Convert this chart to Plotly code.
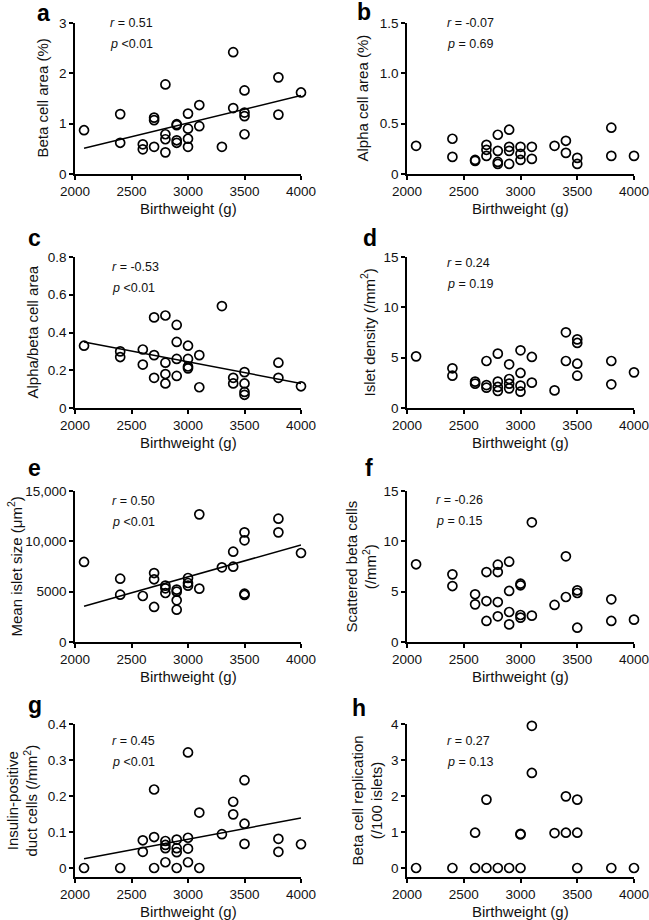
import plotly.graph_objects as go

W, H = 649, 920

# ---------------- data ----------------
bw_a = [2080, 2400, 2400, 2600, 2600, 2700, 2700, 2700, 2800, 2800, 2800, 2800, 2900, 2900, 2900, 2900,
        3000, 3000, 3000, 3000, 3100, 3100, 3300, 3400, 3400, 3500, 3500, 3500, 3500, 3800, 3800, 4000]
beta_area = [0.87, 1.19, 0.62, 0.59, 0.49, 1.12, 1.07, 0.54, 1.78, 0.79, 0.69, 0.43, 0.99, 0.97, 0.67, 0.62,
             1.20, 0.90, 0.70, 0.54, 1.37, 0.95, 0.54, 2.42, 1.31, 1.66, 1.22, 1.15, 0.79, 1.92, 1.18, 1.62]
fit_a = [0.51, 1.56]

bw_b = [2080, 2400, 2400, 2600, 2600, 2700, 2700, 2700, 2800, 2800, 2800, 2800, 2900, 2900, 2900, 2900,
        3000, 3000, 3000, 3100, 3100, 3300, 3400, 3400, 3500, 3500, 3800, 3800, 4000]
alpha_area = [0.28, 0.35, 0.17, 0.14, 0.13, 0.29, 0.24, 0.18, 0.39, 0.23, 0.12, 0.10, 0.44, 0.27, 0.23, 0.10,
              0.27, 0.20, 0.14, 0.27, 0.15, 0.28, 0.33, 0.21, 0.16, 0.10, 0.46, 0.18, 0.18]

bw_c = [2080, 2400, 2400, 2600, 2600, 2700, 2700, 2700, 2800, 2800, 2800, 2800, 2900, 2900, 2900, 2900,
        3000, 3000, 3000, 3000, 3100, 3100, 3300, 3400, 3400, 3500, 3500, 3500, 3500, 3800, 3800, 4000]
alpha_beta = [0.33, 0.30, 0.27, 0.31, 0.23, 0.48, 0.28, 0.16, 0.49, 0.24, 0.18, 0.13, 0.44, 0.35, 0.26, 0.17,
              0.33, 0.26, 0.22, 0.21, 0.28, 0.11, 0.54, 0.16, 0.13, 0.19, 0.13, 0.085, 0.07, 0.24, 0.16, 0.115]
fit_c = [0.35, 0.13]

bw_d = [2080, 2400, 2400, 2600, 2600, 2700, 2700, 2700, 2800, 2800, 2800, 2800, 2900, 2900, 2900, 2900,
        3000, 3000, 3000, 3000, 3100, 3100, 3300, 3400, 3400, 3500, 3500, 3500, 3500, 3800, 3800, 4000]
islet_density = [5.13, 3.94, 3.21, 2.62, 2.42, 4.67, 2.28, 2.02, 5.40, 2.62, 2.09, 1.69, 4.34, 2.88, 2.42, 1.95,
                 5.73, 3.48, 2.22, 1.62, 5.07, 2.52, 1.75, 7.52, 4.67, 6.82, 6.46, 4.40, 3.21, 4.67, 2.35, 3.54]

bw_e = [2080, 2400, 2400, 2600, 2700, 2700, 2700, 2800, 2800, 2800, 2900, 2900, 2900, 2900,
        3000, 3000, 3000, 3100, 3100, 3300, 3400, 3400, 3500, 3500, 3500, 3500, 3800, 3800, 4000]
islet_size = [7950, 6290, 4700, 4570, 6850, 6230, 3480, 5600, 5330, 4870, 5200, 5000, 4140, 3210,
              6360, 5860, 5600, 12680, 5300, 7420, 8970, 7480, 10890, 10100, 4800, 4670, 12250, 10890, 8840]
fit_e = [3560, 9640]

bw_f = [2080, 2400, 2400, 2600, 2600, 2700, 2700, 2700, 2800, 2800, 2800, 2800, 2900, 2900, 2900, 2900,
        3000, 3000, 3000, 3000, 3100, 3100, 3300, 3400, 3400, 3500, 3500, 3500, 3800, 3800, 4000]
scattered_beta = [7.72, 6.72, 5.56, 4.74, 3.74, 6.95, 4.07, 2.09, 7.68, 6.95, 3.97, 2.55, 7.98, 5.07, 2.98, 1.75,
                  5.79, 5.63, 2.68, 2.42, 11.89, 2.62, 3.68, 8.51, 4.47, 5.13, 4.87, 1.42, 4.24, 2.09, 2.22]

bw_g = [2080, 2400, 2600, 2600, 2700, 2700, 2700, 2800, 2800, 2800, 2800, 2900, 2900, 2900, 2900,
        3000, 3000, 3000, 3000, 3100, 3100, 3300, 3400, 3400, 3500, 3500, 3500, 3800, 3800, 4000]
duct_cells = [0, 0, 0.077, 0.045, 0.218, 0.086, 0, 0.075, 0.064, 0.055, 0.016, 0.079, 0.055, 0.044, 0,
              0.321, 0.084, 0.054, 0.016, 0.154, 0, 0.094, 0.184, 0.149, 0.244, 0.123, 0.067, 0.081, 0.045, 0.066]
fit_g = [0.026, 0.139]

bw_h = [2080, 2400, 2600, 2600, 2700, 2700, 2800, 2900, 3000, 3000, 3000, 3100, 3100,
        3300, 3400, 3400, 3500, 3500, 3500, 3800, 4000]
replication = [0, 0, 0.98, 0, 1.90, 0, 0, 0, 0.95, 0.93, 0, 3.95, 2.64,
               0.97, 1.99, 0.98, 1.90, 0.98, 0, 0, 0]

fit_x = [2080, 4000]
x_ticks = [2000, 2500, 3000, 3500, 4000]
x_title = "Birthweight (g)"

panels = [
    dict(letter="a", x=bw_a, y=beta_area, fit=fit_a, r="0.51", p="<0.01", p_eq=False,
         title="Beta cell area (%)", yrange=[0, 3], yticks=[0, 1, 2, 3], ylabels=["0", "1", "2", "3"]),
    dict(letter="b", x=bw_b, y=alpha_area, fit=None, r="-0.07", p="0.69", p_eq=True,
         title="Alpha cell area (%)", yrange=[0, 1.5], yticks=[0, 0.5, 1.0, 1.5], ylabels=["0", "0.5", "1.0", "1.5"]),
    dict(letter="c", x=bw_c, y=alpha_beta, fit=fit_c, r="-0.53", p="<0.01", p_eq=False,
         title="Alpha/beta cell area", yrange=[0, 0.8], yticks=[0, 0.2, 0.4, 0.6, 0.8],
         ylabels=["0", "0.2", "0.4", "0.6", "0.8"]),
    dict(letter="d", x=bw_d, y=islet_density, fit=None, r="0.24", p="0.19", p_eq=True,
         title="Islet density (/mm<sup>2</sup>)", yrange=[0, 15], yticks=[0, 5, 10, 15], ylabels=["0", "5", "10", "15"]),
    dict(letter="e", x=bw_e, y=islet_size, fit=fit_e, r="0.50", p="<0.01", p_eq=False,
         title="Mean islet size (μm<sup>2</sup>)", yrange=[0, 15000], yticks=[0, 5000, 10000, 15000],
         ylabels=["0", "5000", "10,000", "15,000"]),
    dict(letter="f", x=bw_f, y=scattered_beta, fit=None, r="-0.26", p="0.15", p_eq=True,
         title="Scattered beta cells<br>(/mm<sup>2</sup>)", yrange=[0, 15], yticks=[0, 5, 10, 15],
         ylabels=["0", "5", "10", "15"]),
    dict(letter="g", x=bw_g, y=duct_cells, fit=fit_g, r="0.45", p="<0.01", p_eq=False,
         title="Insulin-positive<br>duct cells (/mm<sup>2</sup>)", yrange=[-0.025, 0.4],
         yticks=[0, 0.1, 0.2, 0.3, 0.4], ylabels=["0", "0.1", "0.2", "0.3", "0.4"]),
    dict(letter="h", x=bw_h, y=replication, fit=None, r="0.27", p="0.13", p_eq=True,
         title="Beta cell replication<br>(/100 islets)", yrange=[-0.25, 4],
         yticks=[0, 1, 2, 3, 4], ylabels=["0", "1", "2", "3", "4"]),
]

# ---------------- layout geometry (pixels) ----------------
col_x = [(75, 301), (407, 634)]
row_y = [(23, 174), (257, 408), (491, 642), (724, 877)]
letter_pos = [(35, 13), (355, 12), (26, 238), (361, 238), (26, 468), (363, 468), (26, 705), (350, 708)]
stat_pos = [(108, 23), (445, 23), (110, 267), (445, 263), (110, 501), (434, 500), (110, 741), (445, 741)]
ytitle_x = [42, 362, 32, 368, 15, 361, 22, 367]

FONT = "Arial, Liberation Sans, sans-serif"
TXT = "#111"


def px(x):
    return x / W


def py(y):
    return 1 - y / H


fig = go.Figure()
annotations = []
layout = {}

for i, pn in enumerate(panels):
    k = i + 1
    col = i % 2
    row = i // 2
    xa = "x" if k == 1 else f"x{k}"
    ya = "y" if k == 1 else f"y{k}"
    fig.add_trace(go.Scatter(
        x=pn["x"], y=pn["y"], mode="markers", xaxis=xa, yaxis=ya,
        marker=dict(symbol="circle-open", size=9, color="black", line=dict(width=1.7, color="black")),
        cliponaxis=False, showlegend=False, hoverinfo="x+y"))
    if pn["fit"] is not None:
        fig.add_trace(go.Scatter(
            x=fit_x, y=pn["fit"], mode="lines", xaxis=xa, yaxis=ya,
            line=dict(color="black", width=1.5), showlegend=False, hoverinfo="skip"))

    x0, x1 = col_x[col]
    yt, yb = row_y[row]
    axis_common = dict(showline=True, linecolor="black", linewidth=1.5, ticks="outside", ticklen=4,
                       tickwidth=1.5, tickcolor="black", showgrid=False, zeroline=False, automargin=False,
                       ticklabeloverflow="allow",
                       tickfont=dict(family=FONT, size=13.5, color=TXT))
    layout["xaxis" if k == 1 else f"xaxis{k}"] = dict(
        domain=[px(x0), px(x1)], anchor=ya, range=[2000, 4000], tickvals=x_ticks,
        ticktext=[str(t) for t in x_ticks], **axis_common)
    layout["yaxis" if k == 1 else f"yaxis{k}"] = dict(
        domain=[py(yb), py(yt)], anchor=xa, range=pn["yrange"], tickvals=pn["yticks"],
        ticktext=pn["ylabels"], **axis_common)

    # axis titles
    annotations.append(dict(text=x_title, x=px((x0 + x1) / 2), y=py(yb + 34), xref="paper", yref="paper",
                            xanchor="center", yanchor="middle", showarrow=False,
                            font=dict(family=FONT, size=15, color=TXT)))
    annotations.append(dict(text=pn["title"], x=px(ytitle_x[i]), y=py((yt + yb) / 2), xref="paper",
                            yref="paper", xanchor="center", yanchor="middle", showarrow=False, textangle=-90,
                            font=dict(family=FONT, size=15, color=TXT)))

    lx, ly = letter_pos[i]
    annotations.append(dict(text=f"<b>{pn['letter']}</b>", x=px(lx), y=py(ly), xref="paper", yref="paper",
                            xanchor="left", yanchor="middle", showarrow=False,
                            font=dict(family=FONT, size=23, color="black")))
    sx, sy = stat_pos[i]
    annotations.append(dict(text=f"<i>r</i> = {pn['r']}", x=px(sx), y=py(sy), xref="paper", yref="paper",
                            xanchor="left", yanchor="middle", showarrow=False,
                            font=dict(family=FONT, size=12.5, color=TXT)))
    ptxt = f"<i>p</i> = {pn['p']}" if pn["p_eq"] else f"<i>p</i> {pn['p']}"
    annotations.append(dict(text=ptxt, x=px(sx), y=py(sy + 21), xref="paper", yref="paper",
                            xanchor="left", yanchor="middle", showarrow=False,
                            font=dict(family=FONT, size=12.5, color=TXT)))

fig.update_layout(
    width=W, height=H, margin=dict(l=0, r=0, t=0, b=0),
    paper_bgcolor="white", plot_bgcolor="white",
    annotations=annotations, **layout)

fig.write_html("out.html", config={"displayModeBar": False},
               post_script="document.body.style.margin='0px';document.body.style.overflow='hidden';")
